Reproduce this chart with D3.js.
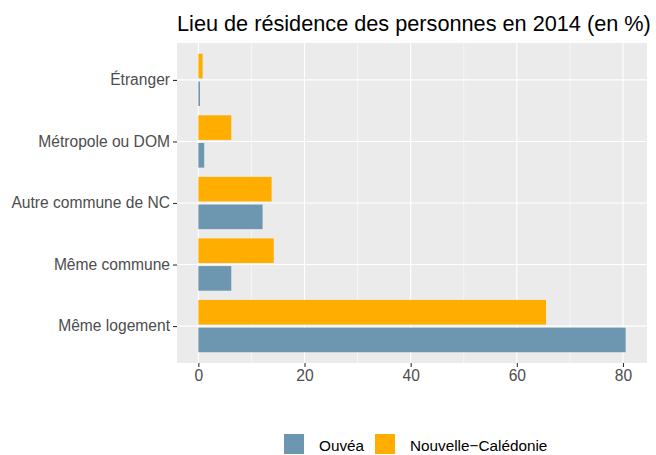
<!DOCTYPE html>
<html>
<head>
<meta charset="utf-8">
<script src="https://cdn.jsdelivr.net/npm/d3@7"></script>
<style>
  body { margin: 0; background: #fff; }
  svg { display: block; font-family: "Liberation Sans", Arial, sans-serif; }
</style>
</head>
<body>
<svg id="chart" width="656" height="455"></svg>
<script>
// Lieu de résidence (top to bottom as displayed)
const categories = ['Étranger', 'Métropole ou DOM', 'Autre commune de NC', 'Même commune', 'Même logement'];
const ouvea = [0.3, 1.1, 12.1, 6.2, 80.5];
const caledonie = [0.8, 6.2, 13.8, 14.2, 65.5];
const xTicks = [0, 20, 40, 60, 80];
const xMinor = [10, 30, 50, 70];
const series = [
	{ name: 'Ouvéa', values: ouvea, color: '#6d97b0', offset: 0.225 },
	{ name: 'Nouvelle−Calédonie', values: caledonie, color: '#ffae00', offset: -0.225 }
];

const $svg = d3.select('#chart');
const panel = { left: 177, right: 647, top: 43, bottom: 363 };

// ggplot-like 5% expansion
const xMax = d3.max([...ouvea, ...caledonie]);
const pad = xMax * 0.05;
const x = d3.scaleLinear()
	.domain([-pad, xMax + pad])
	.range([panel.left, panel.right]);

const y = d3.scalePoint()
	.domain(categories)
	.range([panel.top, panel.bottom])
	.padding(0.6);
const step = y.step();

// panel background
$svg.append('rect')
	.attr('x', panel.left)
	.attr('y', panel.top)
	.attr('width', panel.right - panel.left)
	.attr('height', panel.bottom - panel.top)
	.attr('fill', '#ebebeb');

const $grid = $svg.append('g');
$grid.selectAll('.minor')
	.data(xMinor)
	.enter()
	.append('line')
	.attr('x1', d => x(d)).attr('x2', d => x(d))
	.attr('y1', panel.top).attr('y2', panel.bottom)
	.attr('stroke', '#fff').attr('stroke-width', 0.55);
$grid.selectAll('.major')
	.data(xTicks)
	.enter()
	.append('line')
	.attr('x1', d => x(d)).attr('x2', d => x(d))
	.attr('y1', panel.top).attr('y2', panel.bottom)
	.attr('stroke', '#fff').attr('stroke-width', 1.1);
$grid.selectAll('.hmajor')
	.data(categories)
	.enter()
	.append('line')
	.attr('x1', panel.left).attr('x2', panel.right)
	.attr('y1', d => y(d)).attr('y2', d => y(d))
	.attr('stroke', '#fff').attr('stroke-width', 1.1);

// bars
series.forEach(s => {
	$svg.append('g')
		.selectAll('rect')
		.data(s.values)
		.enter()
		.append('rect')
		.attr('x', x(0))
		.attr('y', (d, i) => y(categories[i]) + s.offset * step - 0.2 * step)
		.attr('width', d => x(d) - x(0))
		.attr('height', 0.4 * step)
		.attr('fill', s.color);
});

// axes
const xAxis = $svg.append('g')
	.attr('transform', `translate(0,${panel.bottom})`)
	.call(d3.axisBottom(x).tickValues(xTicks).tickSize(4).tickPadding(3));
const yAxis = $svg.append('g')
	.attr('transform', `translate(${panel.left},0)`)
	.call(d3.axisLeft(y).tickSize(4).tickPadding(3));
[xAxis, yAxis].forEach($a => {
	$a.select('.domain').remove();
	$a.selectAll('.tick line').attr('stroke', '#333').attr('stroke-width', 1.1);
	$a.selectAll('.tick text')
		.attr('fill', '#4d4d4d')
		.style('font-size', '15.6px')
		.style('font-family', '"Liberation Sans", Arial, sans-serif');
});
yAxis.selectAll('.tick text').attr('dy', '0.3em');

// title
$svg.append('text')
	.attr('x', panel.left)
	.attr('y', 31)
	.style('font-size', '21.7px')
	.attr('fill', '#000')
	.text('Lieu de résidence des personnes en 2014 (en %)');

// legend
const legendX = [284, 375];
const $legend = $svg.append('g')
	.selectAll('g')
	.data(series)
	.enter()
	.append('g')
	.attr('transform', (d, i) => `translate(${legendX[i]},434)`);
$legend.append('rect')
	.attr('width', 20)
	.attr('height', 20)
	.attr('fill', d => d.color);
$legend.append('text')
	.attr('x', 35)
	.attr('y', 17)
	.style('font-size', '15.3px')
	.attr('fill', '#000')
	.text(d => d.name);
</script>
</body>
</html>
